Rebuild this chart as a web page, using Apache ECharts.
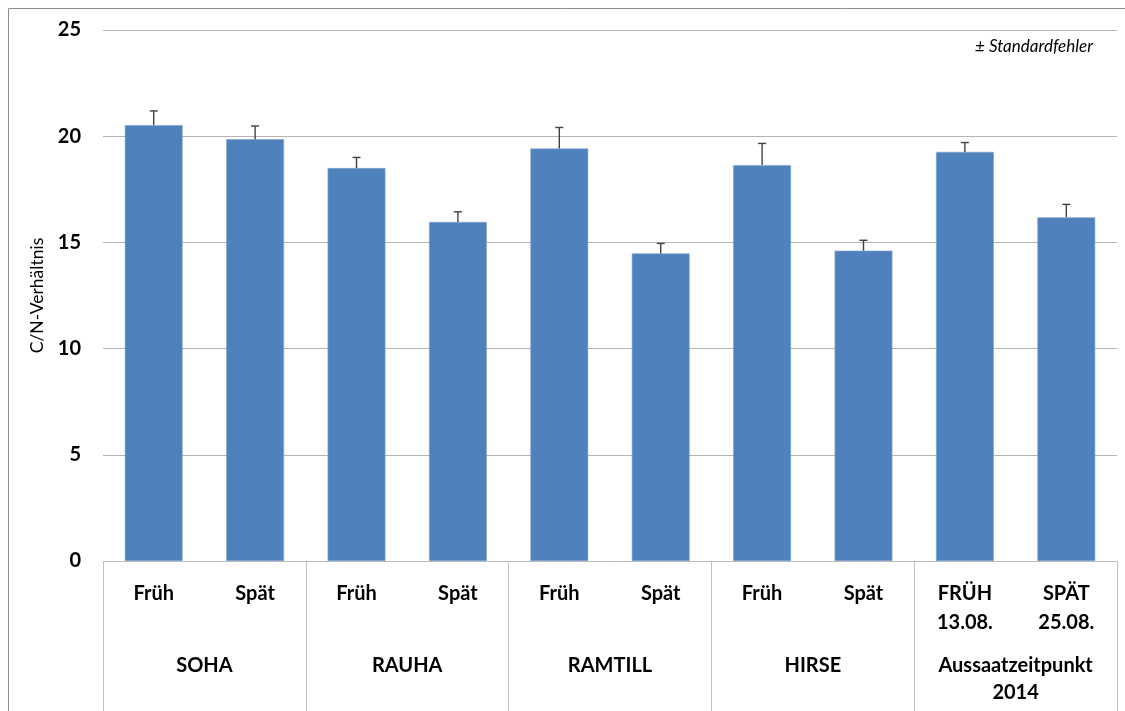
<!DOCTYPE html>
<html>
<head>
<meta charset="utf-8">
<script src="https://cdn.jsdelivr.net/npm/echarts@6/dist/echarts.min.js"></script>
<style>
html,body{margin:0;padding:0;background:#fff;}
#chart{width:1125px;height:711px;}
</style>
</head>
<body>
<div id="chart"></div>
<script>
const categories = ['Früh','Spät','Früh','Spät','Früh','Spät','Früh','Spät','FRÜH\n13.08.','SPÄT\n25.08.'];
const groups = ['SOHA','RAUHA','RAMTILL','HIRSE','Aussaatzeitpunkt\n2014'];
const values = [20.52, 19.86, 18.50, 15.96, 19.42, 14.48, 18.64, 14.61, 19.26, 16.18];
const errors = [0.67, 0.62, 0.50, 0.48, 0.99, 0.47, 1.02, 0.49, 0.44, 0.61];
const yTicks = [0, 5, 10, 15, 20, 25];

const FONT = 'Lato, "Open Sans", sans-serif';
const chart = echarts.init(document.getElementById('chart'));
chart.setOption({
  animation: false,
  backgroundColor: '#fff',
  title: {
    text: '± Standardfehler',
    right: 27, top: 33,
    textStyle: {fontFamily: FONT, fontStyle: 'italic', fontWeight: 'normal', fontSize: 17, color: '#000'}
  },
  graphic: [{
    type: 'rect', silent: true,
    shape: {x: 8.5, y: 8.5, width: 1140, height: 740},
    style: {fill: 'none', stroke: '#8c8c8c', lineWidth: 1}
  }],
  grid: {left: 103, right: 8, top: 30, bottom: 150},
  xAxis: [{
    type: 'category',
    data: categories,
    position: 'bottom',
    axisLine: {show: true, lineStyle: {color: '#bfbfbf', width: 1}},
    axisTick: {show: false},
    axisLabel: {interval: 0, margin: 18, fontFamily: FONT, fontWeight: 'bold', fontSize: 20, color: '#000', lineHeight: 29}
  }, {
    type: 'category',
    data: groups,
    position: 'bottom',
    axisLine: {show: false},
    axisTick: {show: true, length: 160, interval: 0, lineStyle: {color: '#bfbfbf', width: 1}},
    axisLabel: {interval: 0, margin: 91, fontFamily: FONT, fontWeight: 'bold', fontSize: 20, color: '#000', lineHeight: 27}
  }],
  yAxis: {
    type: 'value',
    min: yTicks[0], max: yTicks[yTicks.length - 1], interval: 5,
    name: 'C/N-Verhältnis',
    nameLocation: 'middle',
    nameGap: 57,
    nameTextStyle: {fontFamily: FONT, fontSize: 17.5, color: '#000'},
    axisLine: {show: false},
    axisTick: {show: false},
    axisLabel: {margin: 22, fontFamily: FONT, fontWeight: 'bold', fontSize: 20, color: '#000'},
    splitLine: {show: true, lineStyle: {color: '#b4b4b4', width: 1}}
  },
  series: [{
    type: 'bar',
    data: values,
    barWidth: '57%',
    itemStyle: {color: '#4f81bd', borderColor: '#7fa3d0', borderWidth: 0.6},
    z: 2
  }, {
    type: 'custom',
    z: 3,
    data: values.map((v, i) => [i, v, v + errors[i]]),
    renderItem: function (params, api) {
      const x = api.coord([api.value(0), api.value(1)])[0];
      const y0 = api.coord([api.value(0), api.value(1)])[1];
      const y1 = api.coord([api.value(0), api.value(2)])[1];
      const style = {stroke: '#404040', lineWidth: 1.4};
      return {
        type: 'group',
        children: [
          {type: 'line', shape: {x1: x, y1: y0, x2: x, y2: y1}, style: style},
          {type: 'line', shape: {x1: x - 4, y1: y1, x2: x + 4, y2: y1}, style: style}
        ]
      };
    }
  }]
});
</script>
</body>
</html>
